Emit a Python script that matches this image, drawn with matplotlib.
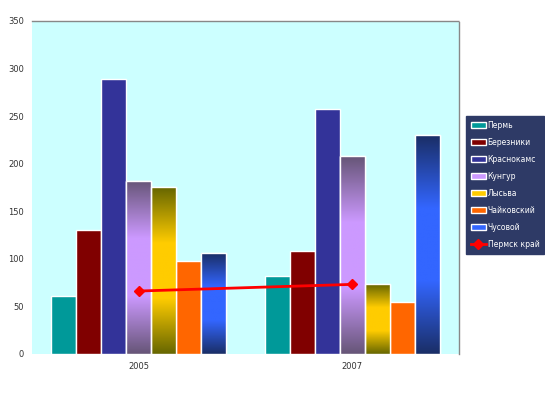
import numpy as np
import matplotlib
matplotlib.use("Agg")
import matplotlib.pyplot as plt
from matplotlib.colors import LinearSegmentedColormap

years = ['2005', '2007']
cities = ['Пермь', 'Березники', 'Краснокамс', 'Кунгур', 'Лысьва', 'Чайковский', 'Чусовой']
values = {
    'Пермь': [61, 82],
    'Березники': [130, 108],
    'Краснокамс': [289, 257],
    'Кунгур': [182, 208],
    'Лысьва': [175, 73],
    'Чайковский': [98, 54],
    'Чусовой': [106, 230],
}
region = [66, 73]  # Пермский край

colors = ['#009999', '#800000', '#333399', '#CC99FF', '#FFCC00', '#FF6600', '#3366FF']
# bars that are drawn with a vertical gradient: (dark end, light middle)
gradients = {
    'Кунгур': ('#665577', '#CC99FF'),
    'Лысьва': ('#666600', '#FFCC00'),
    'Чусовой': ('#1A2E66', '#3366FF'),
}

fig = plt.figure(figsize=(5.45, 3.94), dpi=100)
ax = fig.add_axes([0.059, 0.102, 0.783, 0.845])
ax.set_facecolor('#CCFFFF')

x = np.arange(len(years))
n = len(cities)
w = 0.82 / n
handles = []
for i, c in enumerate(cities):
    pos = x - 0.41 + w * (i + 0.5)
    bars = ax.bar(pos, values[c], w, color=colors[i], edgecolor='white',
                  linewidth=1, label=c, zorder=2)
    handles.append(bars)
    if c in gradients:
        dark, light = gradients[c]
        cmap = LinearSegmentedColormap.from_list(c, [dark, light, light, dark])
        grad = np.linspace(0, 1, 256).reshape(-1, 1)
        for b in bars:
            bx, by = b.get_x(), b.get_y()
            bw, bh = b.get_width(), b.get_height()
            im = ax.imshow(grad, cmap=cmap, aspect='auto', origin='lower',
                           extent=[bx, bx + bw, by, by + bh], zorder=2.5)
            im.set_clip_path(b)
            ax.bar(bx + bw / 2, bh, bw, fill=False, edgecolor='white',
                   linewidth=1, zorder=3)

line, = ax.plot(x, region, color='red', lw=2, marker='D', ms=5, label='Пермск край', zorder=4)
handles.append(line)

ax.set_xlim(-0.5, 1.5)
ax.set_ylim(0, 350)
ax.set_yticks(range(0, 351, 50))
ax.set_xticks(x)
ax.set_xticklabels(years)
ax.tick_params(length=0, labelsize=6, colors='#333333', pad=6)
for s in ['left', 'bottom']:
    ax.spines[s].set_visible(False)
for s in ['top', 'right']:
    ax.spines[s].set_color('#888888')
    ax.spines[s].set_linestyle((0, (1, 1)))
    ax.spines[s].set_linewidth(1)

leg = fig.legend(handles=handles, loc='upper left', bbox_to_anchor=(0.855, 0.705),
                 fontsize=5.5, frameon=True, fancybox=False, framealpha=1,
                 handlelength=2.0, handleheight=0.9, labelspacing=1.05,
                 borderpad=0.6, handletextpad=0.25, borderaxespad=0)
leg.get_frame().set_facecolor('#2E3A66')
leg.get_frame().set_edgecolor('#2E3A66')
for t in leg.get_texts():
    t.set_color('white')

fig.savefig('out.png', dpi=100)
